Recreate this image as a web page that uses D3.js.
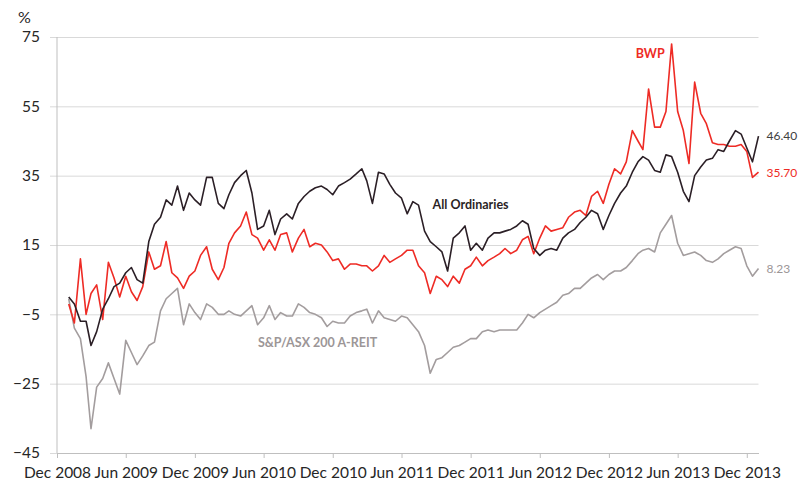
<!DOCTYPE html>
<html>
<head>
<meta charset="utf-8">
<script src="https://cdn.jsdelivr.net/npm/d3@7"></script>
<style>
  body { margin: 0; background: #fff; }
  text { font-family: Lato, "Open Sans", sans-serif; }
</style>
</head>
<body>
<div id="chart"></div>
<script>
// sampled twice a month, Jan 2009 .. Jan 2014, cumulative return in %
const allOrds = [
	0, -2, -7, -7, -14, -10, -3.5, -0.5, 3, 4,
	7, 8.5, 5, 4, 16, 21, 23, 28, 26.5, 32,
	25, 30, 28, 26.5, 34.5, 34.5, 27, 25.5, 29.5, 33,
	35, 36.5, 30, 19.5, 20.5, 25, 18, 22.5, 24, 22.5,
	27, 29, 30.5, 31.5, 32, 31, 29.5, 32, 33, 34,
	35.5, 37, 33.5, 27, 36, 35.5, 32.5, 30, 28.5, 24,
	27.5, 26.5, 19, 16, 14.5, 13, 7.5, 17, 18.5, 20.5,
	13.5, 15.5, 13.5, 17, 18.5, 18.5, 19, 19.5, 20.5, 22,
	21, 14, 12, 13.5, 14, 13.5, 17, 18.5, 19.5, 21.5,
	23, 25, 24, 19.5, 23.5, 27, 30, 32, 36, 39,
	40.5, 39.5, 36.5, 36, 41, 40.5, 36, 30.5, 27.5, 35,
	37.5, 39.5, 40, 42.5, 42, 45, 48, 47, 43, 39,
	46.4
];

const bwp = [
	-2, -7.5, 11, -5, 1, 3.5, -6.5, 10, 5.5, 0,
	6, 1.5, -1, 3, 13, 8, 9, 16, 7, 5.5,
	2.5, 6, 7.5, 12, 14.5, 8, 5, 8.5, 15.5, 18.5,
	20.5, 24.5, 18, 17, 13.5, 16.5, 13.5, 18, 18.5, 13,
	17, 19.5, 14.5, 15.5, 15, 13, 10.5, 11, 8, 9.5,
	9.5, 9, 9, 7.5, 9, 12, 10, 11, 12, 13.5,
	13.5, 9, 7, 1, 6, 5, 3, 6, 4, 8,
	9, 11.5, 9, 10.5, 11.5, 12.5, 14, 12.5, 13.5, 16.5,
	17.5, 12.5, 17, 20.5, 19, 19.5, 20, 23, 24.5, 25,
	23.5, 29, 30.5, 27, 32.5, 37, 35.5, 39, 48, 45,
	42.5, 60, 49, 49, 53.5, 73, 53.5, 48, 38.5, 62,
	53, 50, 44.5, 44, 44, 43.5, 43.5, 44, 42, 34.5,
	36
];

const areit = [
	-0.5, -9, -12, -23, -38, -26, -23.5, -19, -23.5, -28,
	-12.5, -16, -19.5, -17, -14, -13, -4, -0.5, 1, 2.5,
	-8, -2, -4.5, -6.5, -2, -3, -5, -5, -4, -5,
	-5.5, -4, -2.5, -8, -6, -2.5, -6.5, -4.5, -5.5, -5.5,
	-2, -3, -4.5, -5, -6, -8.5, -7, -7.5, -7.5, -5.5,
	-4.5, -4, -3.5, -7.5, -4, -6, -6.5, -7, -5.5, -6,
	-8, -10, -14, -22, -18, -17.5, -16, -14.5, -14, -13,
	-12, -12, -10, -9.5, -10, -9.5, -9.5, -9.5, -9.5, -7.5,
	-5, -6, -4.5, -3.5, -2.5, -1.5, 0.5, 1, 2.5, 2.5,
	4, 5.5, 6.5, 5, 6.5, 7.5, 7.5, 8.5, 10.5, 12.5,
	13.5, 14, 13, 18.5, 21, 23.5, 15.5, 12, 12.5, 13,
	12, 10.5, 10, 11, 12.5, 13.5, 14.5, 14, 9, 6,
	8.23
];

const endLabels = ["46.40", "35.70", "8.23"];
const seriesNames = ["All Ordinaries", "BWP", "S&P/ASX 200 A-REIT"];
const yTicks = [75, 55, 35, 15, -5, -25, -45];
const xTickLabels = ["Dec 2008", "Jun 2009", "Dec 2009", "Jun 2010", "Dec 2010", "Jun 2011",
	"Dec 2011", "Jun 2012", "Dec 2012", "Jun 2013", "Dec 2013"];

const parseTick = d3.timeParse("%b %Y");
const xTickDates = xTickLabels.map(parseTick);

// sample dates: 1st and 16th of each month
const dates = [];
d3.timeMonth.range(new Date(2009, 0, 1), new Date(2014, 0, 1)).forEach((m) => {
	dates.push(m, d3.timeDay.offset(m, 15));
});
dates.push(new Date(2014, 0, 1));

const W = 802, H = 485;
const svg = d3.select("#chart").append("svg")
	.attr("width", W)
	.attr("height", H);

const x = d3.scaleTime()
	.domain([new Date(2008, 11, 1), new Date(2014, 0, 1)])
	.range([57, 758.5]);

const y = d3.scaleLinear()
	.domain([-45, 75])
	.range([453, 37]);

// gridlines + y labels
const yAxis = svg.append("g")
	.attr("transform", "translate(57,0)")
	.call(d3.axisLeft(y).tickValues(yTicks).tickSize(-(758.5 - 57)).tickSizeOuter(0).tickPadding(17));
yAxis.select(".domain").remove();
yAxis.selectAll(".tick line")
	.attr("x1", -7)
	.attr("stroke", "#d9d9d9");
yAxis.selectAll(".tick text")
	.style("font-size", "15.5px")
	.attr("fill", "#262626");

// left axis line
svg.append("line")
	.attr("x1", 57).attr("x2", 57)
	.attr("y1", y(75)).attr("y2", y(-45))
	.attr("stroke", "#bfbfbf");

// x axis
const xAxis = svg.append("g")
	.attr("transform", `translate(0,${y(-45)})`)
	.call(d3.axisBottom(x).tickValues(xTickDates).tickFormat((d, i) => xTickLabels[i]).tickSize(5).tickSizeOuter(0).tickPadding(9));
xAxis.select(".domain").attr("stroke", "#bfbfbf");
xAxis.selectAll(".tick line").attr("stroke", "#bfbfbf");
xAxis.selectAll(".tick text")
	.style("font-size", "15.5px")
	.attr("fill", "#262626");

svg.append("text")
	.attr("x", 18)
	.attr("y", 23)
	.style("font-size", "16px")
	.attr("fill", "#262626")
	.text("%");

const line = d3.line()
	.x((d, i) => x(dates[i]))
	.y((d) => y(d));

const colors = { ords: "#2b1f26", bwp: "#ee2b25", areit: "#a39d9e" };

svg.append("path").datum(areit)
	.attr("fill", "none").attr("stroke", colors.areit).attr("stroke-width", 1.6)
	.attr("stroke-linejoin", "round").attr("d", line);
svg.append("path").datum(bwp)
	.attr("fill", "none").attr("stroke", colors.bwp).attr("stroke-width", 1.6)
	.attr("stroke-linejoin", "round").attr("d", line);
svg.append("path").datum(allOrds)
	.attr("fill", "none").attr("stroke", colors.ords).attr("stroke-width", 1.6)
	.attr("stroke-linejoin", "round").attr("d", line);

// series names
function seriesLabel(text, date, value, color) {
	svg.append("text")
		.attr("x", x(date))
		.attr("y", y(value))
		.style("font-size", "12.5px")
		.style("font-weight", "bold")
		.attr("fill", color)
		.text(text);
}
seriesLabel(seriesNames[0], new Date(2011, 7, 22), 25.4, colors.ords);
seriesLabel(seriesNames[1], new Date(2013, 1, 10), 68.9, colors.bwp);
seriesLabel(seriesNames[2], new Date(2010, 4, 17), -14.4, "#9c9697");

// end values
const last = dates[dates.length - 1];
[[endLabels[0], "#404040"], [endLabels[1], colors.bwp], [endLabels[2], "#9c9697"]].forEach(([t, c]) => {
	svg.append("text")
		.attr("x", x(last) + 8)
		.attr("y", y(+t))
		.attr("dy", "0.35em")
		.style("font-size", "12px")
		.attr("fill", c)
		.text(t);
});
</script>
</body>
</html>
